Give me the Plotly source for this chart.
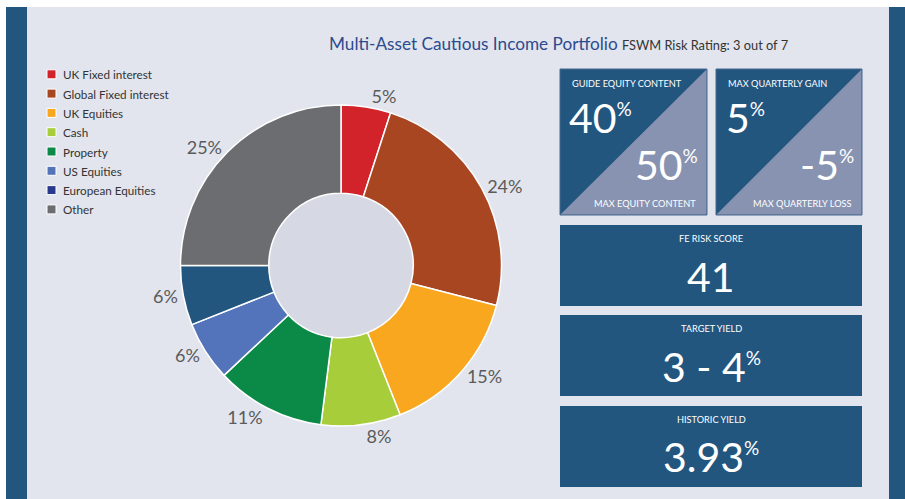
import plotly.graph_objects as go

# ---- data ----
labels = ["UK Fixed interest", "Global Fixed interest", "UK Equities", "Cash",
          "Property", "US Equities", "European Equities", "Other"]
values = [5, 24, 15, 8, 11, 6, 6, 25]

title_main = "Multi-Asset Cautious Income Portfolio"
title_sub = "FSWM Risk Rating: 3 out of 7"

guide_equity = 40
max_equity = 50
max_gain = 5
max_loss = -5
fe_risk_score = 41
target_yield = "3 - 4"
historic_yield = 3.93

# ---- styles ----
slice_colors = ["#d2232a", "#a84622", "#f9a71e", "#a8cd3a", "#0b8a47",
                "#5374bb", "#22567f", "#6c6d70"]
legend_colors = ["#d2232a", "#a84622", "#f9a71e", "#a8cd3a", "#0b8a47",
                 "#5374bb", "#2a3990", "#6c6d70"]
BG = "#e2e5ed"
BAND = "#22567f"
BOX = "#22567f"
TRI = "#8893b1"
HOLE = "#d6d9e3"
FONT = "Lato"

W, H = 905, 499
fig = go.Figure()

# pie geometry in pixels
cx, cy, r = 341, 265.5, 160.5
fig.add_trace(go.Pie(
    labels=labels, values=values, sort=False, direction="clockwise", rotation=0,
    hole=0.45,
    marker=dict(colors=slice_colors, line=dict(color="white", width=1.5)),
    textposition="outside", texttemplate="%{value}%",
    textfont=dict(family=FONT, size=18, color="#5b5b5b"),
    showlegend=False, hoverinfo="label+value",
    domain=dict(x=[(cx - r) / W, (cx + r) / W], y=[1 - (cy + r) / H, 1 - (cy - r) / H]),
))

# invisible pixel axes for placing decorations
fig.update_xaxes(range=[0, W], visible=False, fixedrange=True)
fig.update_yaxes(range=[H, 0], visible=False, fixedrange=True)

shapes = []
def rect(x0, y0, x1, y1, color, layer="below", line=None):
    shapes.append(dict(type="rect", xref="x", yref="y", x0=x0, y0=y0, x1=x1, y1=y1,
                       fillcolor=color, line=line or dict(width=0), layer=layer))

rect(27, 7, 889, H, BG)
rect(6, 7, 27, H, BAND)
rect(889, 7, W, H, BAND)
shapes.append(dict(type="circle", xref="x", yref="y", x0=cx - 72, x1=cx + 72,
                   y0=cy - 72, y1=cy + 72, fillcolor=HOLE, line=dict(width=0), layer="below"))

# legend
ann = []
for i, (lab, col) in enumerate(zip(labels, legend_colors)):
    yc = 74.3 + i * 19.3
    rect(47, yc - 4.5, 56, yc + 4.5, col, layer="above", line=dict(color="white", width=1))
    ann.append(dict(x=61, y=yc, xref="x", yref="y", text=lab, showarrow=False,
                    xanchor="left", yanchor="middle",
                    font=dict(family=FONT, size=11.7, color="#333333")))

# title
ann.append(dict(x=558.5, y=43, xref="x", yref="y", showarrow=False, xanchor="center", yanchor="middle",
                text=f"<span style='color:#2c4a8f;font-size:17.2px'>{title_main}</span> "
                     f"<span style='color:#333333;font-size:12.8px'>{title_sub}</span>",
                font=dict(family=FONT, size=17.2, color="#2c4a8f")))

# boxes
for (x0, x1) in [(560, 707), (716, 862)]:
    rect(x0, 69, x1, 215, BOX, layer="above", line=dict(color="#48698f", width=1))
    shapes.append(dict(type="path", xref="x", yref="y",
                       path=f"M {x0+0.5},{215-0.5} L {x1-0.5},{215-0.5} L {x1-0.5},{69+0.5} Z",
                       fillcolor=TRI, line=dict(width=0), layer="above"))
for (y0, y1) in [(225, 306), (315, 396), (406, 487)]:
    rect(560, y0, 862, y1, BOX, layer="above")

def txt(x, y, s, size, anchor="left"):
    ann.append(dict(x=x, y=y, xref="x", yref="y", text=s, showarrow=False,
                    xanchor=anchor, yanchor="middle",
                    font=dict(family=FONT, size=size, color="white")))

def big(v, pct=19):
    return f"{v}<sup><span style='font-size:{pct}px'>%</span></sup>"

BIG = 41
SMALL = 9.2
txt(570, 83, "GUIDE EQUITY CONTENT", SMALL)
txt(567, 117, big(guide_equity), BIG)
txt(700, 164, big(max_equity), BIG, "right")
txt(698, 203, "MAX EQUITY CONTENT", SMALL, "right")

txt(726, 83, "MAX QUARTERLY GAIN", SMALL)
txt(724, 117, big(max_gain), BIG)
txt(856, 164, big(max_loss), BIG, "right")
txt(854, 203, "MAX QUARTERLY LOSS", SMALL, "right")

txt(711, 238.5, "FE RISK SCORE", SMALL, "center")
txt(711, 276, str(fe_risk_score), BIG, "center")
txt(711, 328.5, "TARGET YIELD", SMALL, "center")
txt(711, 366, big(target_yield), BIG, "center")
txt(711, 419, "HISTORIC YIELD", SMALL, "center")
txt(711, 456, big(historic_yield), BIG, "center")

fig.update_layout(width=W, height=H, margin=dict(l=0, r=0, t=0, b=0),
                  paper_bgcolor="white", plot_bgcolor="rgba(0,0,0,0)",
                  shapes=shapes, annotations=ann, showlegend=False)

fig.write_html("out.html", config={"displayModeBar": False},
               post_script="document.body.style.margin='0';")
